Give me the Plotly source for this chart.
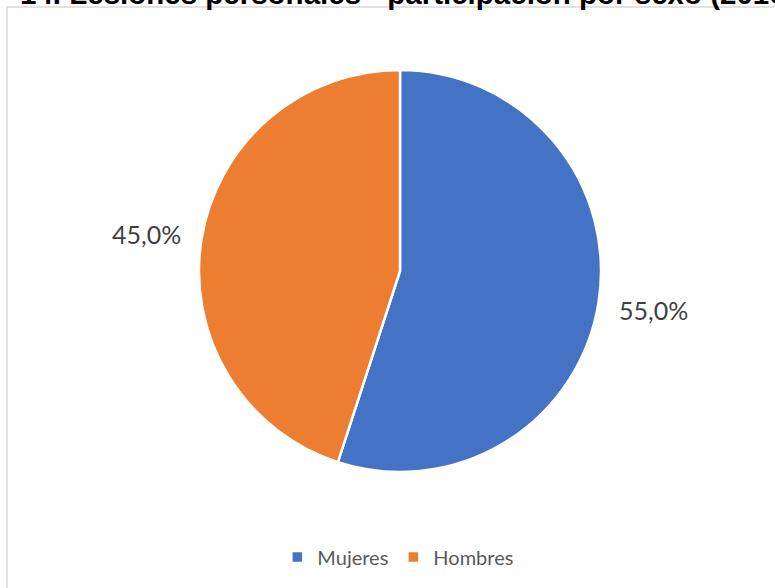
import math
import plotly.graph_objects as go

categories = ["Mujeres", "Hombres"]
values = [55.0, 45.0]
colors = ["#4472C4", "#ED7D31"]
title_text = "14. Lesiones personales - participación por sexo (2016-2020)"

W, H = 775, 588
cx, cy, r = 400, 271, 201

fig = go.Figure(go.Pie(
    labels=categories,
    values=values,
    sort=False,
    direction="clockwise",
    rotation=0,
    marker=dict(colors=colors, line=dict(color="white", width=2.5)),
    textinfo="none",
    hoverinfo="label+percent",
    domain=dict(x=[(cx - r) / W, (cx + r) / W], y=[1 - (cy + r) / H, 1 - (cy - r) / H]),
))

# percentage labels placed outside along each slice's mid-angle
total = sum(values)
annotations = []
cum = 0.0
for v in values:
    mid = (cum + v / 2) / total * 2 * math.pi
    cum += v
    lx = cx + 1.275 * r * math.sin(mid)
    ly = cy - 1.2 * r * math.cos(mid)
    pct = f"{v / total * 100:.1f}%".replace(".", ",")
    annotations.append(dict(text=pct, xref="paper", yref="paper", x=lx / W, y=1 - ly / H,
                            xanchor="center", yanchor="middle", showarrow=False, yshift=-1,
                            font=dict(family="Lato", size=25, color="#404040")))

annotations.append(dict(text=title_text, xref="paper", yref="paper", x=18 / W, xanchor="left",
                        y=1 + 7 / H, yanchor="middle", showarrow=False,
                        font=dict(family="Liberation Sans", size=29.5, color="#000000", weight="bold")))

fig.update_layout(
    width=W, height=H,
    margin=dict(l=0, r=0, t=0, b=0),
    paper_bgcolor="white",
    showlegend=True,
    legend=dict(orientation="h", x=0.514, xanchor="center", y=1 - 557 / H, yanchor="middle",
                font=dict(family="Lato", size=20, color="#595959"),
                itemwidth=30, tracegroupgap=0),
    shapes=[dict(type="rect", xref="paper", yref="paper", x0=7 / W, x1=1.02, y0=-0.02, y1=1 - 7 / H,
                 line=dict(color="#D9D9D9", width=1.5), fillcolor="rgba(0,0,0,0)", layer="below")],
    annotations=annotations,
)

fig.write_html("out.html", config={"displayModeBar": False},
               post_script="document.body.style.margin='0';document.body.style.overflow='hidden';")
